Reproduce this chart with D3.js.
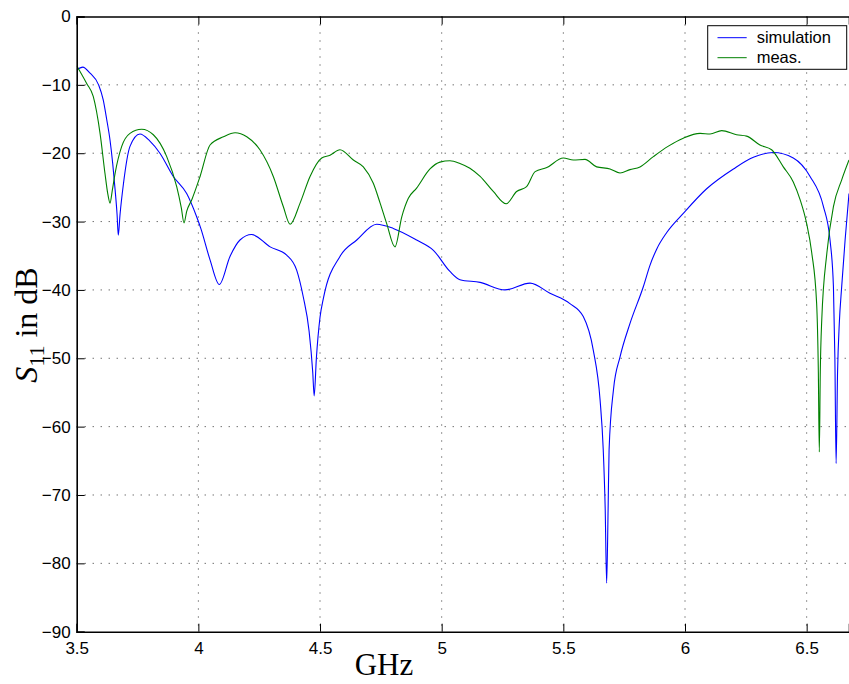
<!DOCTYPE html>
<html>
<head>
<meta charset="utf-8">
<script src="https://cdn.jsdelivr.net/npm/d3@7"></script>
<style>
  body { margin: 0; background: #fff; }
  svg { display: block; }
</style>
</head>
<body>
<script>
const width = 849;
const height = 684;

// simulation curve
const simFreq = [3.500, 3.525, 3.555, 3.590, 3.609, 3.623, 3.637, 3.648, 3.658, 3.666, 3.671, 3.678, 3.692, 3.719, 3.760, 3.800, 3.842, 3.897, 3.952, 3.993, 4.010, 4.048, 4.086, 4.130, 4.171, 4.219, 4.295, 4.363, 4.404, 4.431, 4.455, 4.470, 4.476, 4.485, 4.500, 4.514, 4.582, 4.651, 4.733, 4.801, 4.897, 4.966, 5.034, 5.075, 5.158, 5.260, 5.363, 5.445, 5.527, 5.582, 5.623, 5.651, 5.664, 5.672, 5.678, 5.684, 5.688, 5.706, 5.733, 5.774, 5.829, 5.856, 5.884, 5.925, 5.993, 6.089, 6.199, 6.281, 6.363, 6.445, 6.514, 6.569, 6.596, 6.610, 6.616, 6.621, 6.627, 6.634, 6.644, 6.658, 6.674];
const simDb = [-7.8, -7.4, -8.3, -10.0, -12.2, -15.0, -18.1, -21.5, -25.4, -29.0, -32.0, -29.0, -24.5, -19.0, -17.2, -18.2, -20.0, -23.4, -25.9, -29.3, -31.0, -35.6, -39.2, -35.1, -32.7, -31.9, -33.7, -34.9, -37.1, -41.0, -46.0, -52.0, -55.5, -50.0, -44.0, -41.2, -35.1, -32.7, -30.4, -31.0, -32.7, -34.2, -37.3, -38.5, -38.9, -40.0, -39.0, -40.5, -42.0, -43.9, -48.8, -56.1, -63.4, -72.0, -82.9, -72.0, -63.4, -54.6, -49.8, -44.9, -39.5, -36.4, -34.0, -31.6, -28.8, -25.2, -22.3, -20.6, -19.9, -20.7, -23.4, -27.8, -32.7, -39.5, -50.0, -65.4, -52.0, -45.0, -39.5, -32.7, -25.9];

// measured curve
const measFreq = [3.500, 3.541, 3.568, 3.596, 3.616, 3.628, 3.637, 3.646, 3.658, 3.685, 3.719, 3.767, 3.815, 3.870, 3.911, 3.930, 3.941, 3.952, 3.973, 4.007, 4.048, 4.103, 4.151, 4.199, 4.253, 4.308, 4.349, 4.377, 4.418, 4.459, 4.507, 4.541, 4.582, 4.637, 4.678, 4.719, 4.747, 4.774, 4.808, 4.836, 4.863, 4.897, 4.952, 4.993, 5.034, 5.075, 5.116, 5.158, 5.212, 5.265, 5.308, 5.349, 5.384, 5.432, 5.500, 5.541, 5.589, 5.637, 5.692, 5.733, 5.774, 5.815, 5.870, 5.930, 5.993, 6.062, 6.103, 6.151, 6.212, 6.253, 6.308, 6.356, 6.404, 6.445, 6.473, 6.500, 6.521, 6.541, 6.548, 6.552, 6.556, 6.562, 6.583, 6.610, 6.644, 6.674];
const measDb = [-7.2, -9.8, -11.7, -17.1, -22.9, -26.0, -27.3, -25.5, -22.9, -19.0, -17.1, -16.5, -17.3, -20.5, -24.9, -28.0, -30.2, -28.5, -26.8, -23.4, -18.8, -17.6, -17.0, -17.6, -19.5, -23.4, -27.8, -30.4, -27.3, -23.4, -20.7, -20.3, -19.5, -21.0, -22.0, -24.4, -27.3, -30.3, -33.7, -29.3, -26.6, -25.1, -22.3, -21.3, -21.1, -21.5, -22.2, -23.4, -25.6, -27.4, -25.6, -24.9, -22.7, -22.1, -20.7, -21.0, -20.9, -22.0, -22.3, -22.9, -22.4, -22.0, -20.5, -19.0, -17.8, -17.1, -17.2, -16.7, -17.3, -17.5, -18.8, -19.5, -22.0, -24.2, -26.8, -30.3, -34.6, -42.0, -52.0, -63.7, -52.0, -44.4, -34.6, -27.8, -23.9, -21.0];

const xTicks = [3.5, 4, 4.5, 5, 5.5, 6, 6.5];
const yTicks = [0, -10, -20, -30, -40, -50, -60, -70, -80, -90];
const seriesNames = ["simulation", "meas."];
const seriesColors = ["#0000ff", "#008000"];

const plotL = 76.7, plotR = 849, plotT = 16.5, plotB = 631.7;

const x = d3.scaleLinear().domain([3.5, 6.674]).range([plotL, plotR]);
const y = d3.scaleLinear().domain([-90, 0]).range([plotB, plotT]);

const svg = d3.select("body").append("svg")
  .attr("width", width)
  .attr("height", height);

svg.append("defs").append("clipPath").attr("id", "plot")
  .append("rect")
  .attr("x", plotL).attr("y", plotT)
  .attr("width", plotR - plotL).attr("height", plotB - plotT);

// dotted grid
const grid = svg.append("g")
  .attr("stroke", "#333")
  .attr("stroke-width", 1)
  .attr("stroke-dasharray", "1,7");
grid.selectAll(".gx").data(xTicks.slice(1)).enter().append("line")
  .attr("x1", d => x(d)).attr("x2", d => x(d))
  .attr("y1", plotT).attr("y2", plotB);
grid.selectAll(".gy").data(yTicks.slice(1, -1)).enter().append("line")
  .attr("x1", plotL).attr("x2", plotR)
  .attr("y1", d => y(d)).attr("y2", d => y(d));

// curves
const line = d3.line()
  .x(d => x(d[0]))
  .y(d => y(d[1]))
  .curve(d3.curveMonotoneX);

const series = [d3.zip(simFreq, simDb), d3.zip(measFreq, measDb)];
svg.append("g").attr("clip-path", "url(#plot)")
  .selectAll("path").data(series).enter().append("path")
  .attr("d", line)
  .attr("fill", "none")
  .attr("stroke", (_, i) => seriesColors[i])
  .attr("stroke-width", 1.1);

// axes (ticks inside, like matlab)
const xAxis = svg.append("g")
  .attr("transform", `translate(0,${plotB})`)
  .call(d3.axisBottom(x).tickValues(xTicks).tickSize(-8).tickPadding(10)
    .tickFormat(d3.format("")));
const xTop = svg.append("g")
  .attr("transform", `translate(0,${plotT})`)
  .call(d3.axisTop(x).tickValues(xTicks).tickSize(-8).tickFormat(""));
const yAxis = svg.append("g")
  .attr("transform", `translate(${plotL},0)`)
  .call(d3.axisLeft(y).tickValues(yTicks).tickSize(-8).tickPadding(6)
    .tickFormat(d => d3.format("")(d).replace("-", "\u2212")));

[xAxis, xTop, yAxis].forEach(g => {
  g.select(".domain").attr("stroke", "#000").attr("stroke-width", 1.6);
  g.selectAll(".tick line").attr("stroke", "#000").attr("stroke-width", 1);
  g.selectAll("text")
    .attr("fill", "#000")
    .style("font-family", "'Liberation Sans', Arial, sans-serif")
    .style("font-size", "17px");
});
xAxis.selectAll(".tick text").attr("dy", "0.71em");

// axis titles
svg.append("text")
  .attr("x", 384).attr("y", 675)
  .attr("text-anchor", "middle")
  .style("font-family", "'Liberation Serif', 'Times New Roman', serif")
  .style("font-size", "31px")
  .text("GHz");

const yTitle = svg.append("text")
  .attr("transform", "translate(37,325) rotate(-90)")
  .attr("text-anchor", "middle")
  .style("font-family", "'Liberation Serif', 'Times New Roman', serif")
  .style("font-size", "32px");
yTitle.append("tspan").style("font-style", "italic").text("S");
yTitle.append("tspan").attr("dy", 7).style("font-size", "22px").text("11");
yTitle.append("tspan").attr("dy", -7).text(" in dB");

// legend
const legend = svg.append("g");
legend.append("rect")
  .attr("x", 707.7).attr("y", 25.7)
  .attr("width", 139).attr("height", 43.6)
  .attr("fill", "#fff")
  .attr("stroke", "#000")
  .attr("stroke-width", 1);
const items = legend.selectAll("g.item").data(seriesNames).enter().append("g")
  .attr("transform", (_, i) => `translate(0,${37.7 + i * 20})`);
items.append("line")
  .attr("x1", 717.5).attr("x2", 746.7)
  .attr("stroke", (_, i) => seriesColors[i])
  .attr("stroke-width", 1);
items.append("text")
  .attr("x", 756.7).attr("dy", "0.35em")
  .style("font-family", "'Liberation Sans', Arial, sans-serif")
  .style("font-size", "16.5px")
  .text(d => d);
</script>
</body>
</html>
